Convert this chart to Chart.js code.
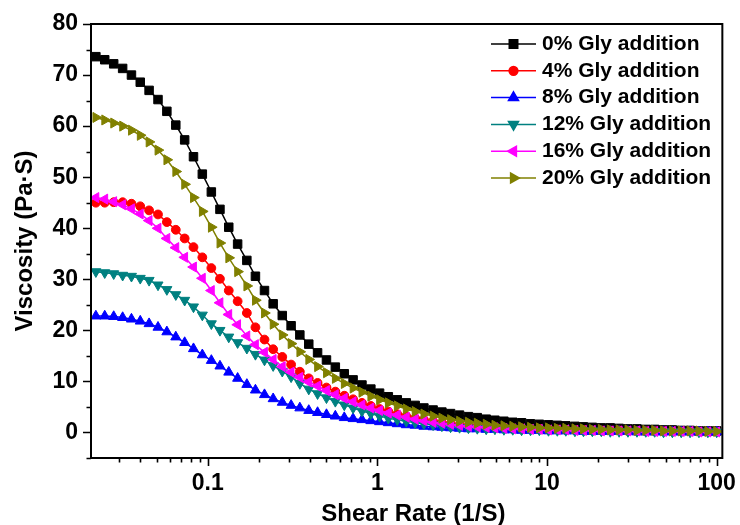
<!DOCTYPE html>
<html lang="en">
<head>
<meta charset="UTF-8">
<title>Viscosity vs. Shear Rate</title>
<script src="https://cdn.jsdelivr.net/npm/chart.js"></script>
<style>
  body { margin: 0; background: #fff; }
  canvas { display: block; }
</style>
</head>
<body>
<canvas id="viscChart" width="740" height="525"></canvas>
<script>
// shear rate (1/S), shared by every series
const shearRate = [
  0.0219, 0.0247, 0.0279, 0.0315, 0.0355, 0.0400, 0.0451, 0.0509, 0.0574, 0.0648,
  0.0731, 0.0824, 0.0929, 0.105, 0.118, 0.133, 0.150, 0.170, 0.191, 0.216,
  0.243, 0.275, 0.310, 0.349, 0.394, 0.444, 0.501, 0.565, 0.638, 0.719,
  0.811, 0.915, 1.03, 1.16, 1.31, 1.48, 1.67, 1.88, 2.13, 2.40,
  2.70, 3.05, 3.44, 3.88, 4.38, 4.93, 5.57, 6.28, 7.08, 7.99,
  9.01, 10.2, 11.5, 12.9, 14.6, 16.4, 18.5, 20.9, 23.6, 26.6,
  30.0, 33.9, 38.2, 43.1, 48.6, 54.8, 61.8, 69.7, 78.6, 88.7,
  100
];

// viscosity (Pa·S)
const gly0 = [
  73.6, 73.0, 72.2, 71.3, 70.0, 68.6, 67.0, 65.2, 62.9, 60.2,
  57.3, 54.0, 50.6, 47.1, 43.7, 40.2, 36.9, 33.7, 30.6, 27.8,
  25.2, 22.9, 20.9, 19.1, 17.3, 15.6, 14.2, 12.8, 11.5, 10.3,
  9.3, 8.5, 7.7, 7.0, 6.4, 5.8, 5.3, 4.8, 4.4, 4.0,
  3.7, 3.4, 3.1, 2.9, 2.6, 2.4, 2.2, 2.0, 1.9, 1.7,
  1.6, 1.5, 1.4, 1.3, 1.2, 1.1, 1.0, 0.9, 0.9, 0.8,
  0.7, 0.7, 0.6, 0.6, 0.5, 0.5, 0.4, 0.4, 0.3, 0.3,
  0.3
];
const gly4 = [
  45.0, 45.0, 45.1, 45.1, 44.8, 44.3, 43.5, 42.7, 41.2, 39.7,
  38.0, 36.3, 34.3, 32.2, 30.1, 27.8, 25.7, 23.4, 20.6, 18.2,
  16.3, 14.8, 13.3, 11.9, 10.6, 9.7, 8.8, 8.0, 7.2, 6.5,
  5.8, 5.2, 4.6, 4.1, 3.6, 3.2, 2.8, 2.5, 2.2, 1.9,
  1.7, 1.5, 1.3, 1.2, 1.1, 1.0, 0.9, 0.8, 0.8, 0.7,
  0.7, 0.6, 0.6, 0.5, 0.5, 0.5, 0.4, 0.4, 0.4, 0.4,
  0.3, 0.3, 0.3, 0.3, 0.3, 0.2, 0.2, 0.2, 0.2, 0.2,
  0.2
];
const gly8 = [
  22.8, 22.8, 22.7, 22.5, 22.2, 21.8, 21.3, 20.6, 19.7, 18.7,
  17.6, 16.4, 15.2, 14.1, 13.0, 11.8, 10.6, 9.4, 8.3, 7.4,
  6.6, 5.9, 5.3, 4.8, 4.3, 3.9, 3.5, 3.2, 2.9, 2.7,
  2.5, 2.3, 2.1, 1.9, 1.7, 1.5, 1.4, 1.2, 1.1, 1.0,
  0.9, 0.8, 0.7, 0.7, 0.6, 0.6, 0.5, 0.5, 0.4, 0.4,
  0.4, 0.3, 0.3, 0.3, 0.3, 0.2, 0.2, 0.2, 0.2, 0.2,
  0.2, 0.1, 0.1, 0.1, 0.1, 0.1, 0.1, 0.1, 0.1, 0.1,
  0.1
];
const gly12 = [
  31.5, 31.3, 31.1, 30.8, 30.6, 30.2, 29.8, 28.9, 28.0, 27.0,
  25.9, 24.6, 23.0, 21.3, 20.0, 18.7, 17.6, 16.5, 15.3, 14.2,
  13.1, 12.0, 10.9, 9.6, 8.5, 7.6, 6.8, 6.1, 5.4, 4.8,
  4.2, 3.7, 3.2, 2.8, 2.5, 2.2, 1.9, 1.7, 1.5, 1.3,
  1.1, 1.0, 0.9, 0.8, 0.7, 0.7, 0.6, 0.6, 0.5, 0.5,
  0.5, 0.4, 0.4, 0.4, 0.3, 0.3, 0.3, 0.3, 0.2, 0.2,
  0.2, 0.2, 0.2, 0.2, 0.1, 0.1, 0.1, 0.1, 0.1, 0.1,
  0.1
];
const gly16 = [
  46.0, 45.7, 45.2, 44.6, 43.8, 42.8, 41.5, 40.0, 38.0, 36.2,
  34.3, 32.4, 30.2, 27.8, 25.4, 23.1, 21.1, 18.9, 17.2, 15.7,
  14.3, 12.9, 11.8, 10.8, 9.9, 9.1, 8.2, 7.4, 6.7, 6.0,
  5.4, 4.8, 4.3, 3.8, 3.4, 3.0, 2.6, 2.3, 2.0, 1.8,
  1.6, 1.4, 1.2, 1.1, 1.0, 0.9, 0.8, 0.7, 0.7, 0.6,
  0.6, 0.5, 0.5, 0.5, 0.4, 0.4, 0.4, 0.3, 0.3, 0.3,
  0.3, 0.3, 0.2, 0.2, 0.2, 0.2, 0.2, 0.2, 0.1, 0.1,
  0.1
];
const gly20 = [
  61.7, 61.2, 60.6, 60.0, 59.2, 58.2, 56.9, 55.3, 53.4, 51.1,
  48.6, 46.0, 43.3, 40.2, 37.1, 34.2, 31.5, 28.7, 25.9, 23.4,
  21.2, 19.1, 17.4, 15.8, 14.3, 12.9, 11.7, 10.6, 9.6, 8.7,
  7.9, 7.1, 6.4, 5.8, 5.2, 4.6, 4.1, 3.6, 3.2, 2.8,
  2.5, 2.2, 2.0, 1.8, 1.6, 1.4, 1.3, 1.2, 1.1, 1.0,
  0.9, 0.9, 0.8, 0.8, 0.7, 0.7, 0.6, 0.6, 0.5, 0.5,
  0.5, 0.4, 0.4, 0.4, 0.3, 0.3, 0.3, 0.3, 0.3, 0.2,
  0.2
];

const seriesLabels = ['0% Gly addition', '4% Gly addition', '8% Gly addition',
                      '12% Gly addition', '16% Gly addition', '20% Gly addition'];
const seriesValues = [gly0, gly4, gly8, gly12, gly16, gly20];

// tick labels
const xTickValues = [0.1, 1, 10, 100];
const yTickValues = [0, 10, 20, 30, 40, 50, 60, 70, 80];

// marker look per series
const colors = ['#000000', '#ff0000', '#0000ff', '#008080', '#ff00ff', '#808000'];
const markers = ['rect', 'circle', 'triangle', 'triangle', 'triangle', 'triangle'];
const rotations = [0, 0, 0, 180, 270, 90];
const radii = [6, 4.4, 5.8, 5.8, 5.8, 5.8];

const FONT = '"Liberation Sans", Arial, sans-serif';

const datasets = seriesValues.map((vals, i) => ({
    label: seriesLabels[i],
    data: vals.map((v, j) => ({ x: shearRate[j], y: v })),
    borderColor: colors[i],
    backgroundColor: colors[i],
    borderWidth: 1.5,
    pointStyle: markers[i],
    pointRotation: rotations[i],
    pointRadius: radii[i],
    pointBorderWidth: 1,
    pointBackgroundColor: colors[i],
    pointBorderColor: colors[i],
    tension: 0,
    order: seriesValues.length - i, // last series drawn on top
    clip: false
}));

// frame, outward tick marks and the line+marker legend
const decorPlugin = {
    id: 'decor',
    afterDraw(chart) {
        const ctx = chart.ctx;
        const a = chart.chartArea;
        const xs = chart.scales.x, ys = chart.scales.y;

        ctx.save();
        ctx.strokeStyle = '#000000';
        ctx.lineWidth = 2;
        ctx.beginPath();
        ctx.rect(a.left, a.top, a.right - a.left, a.bottom - a.top);
        ctx.stroke();

        ctx.lineWidth = 1.6;
        ctx.beginPath();
        for (let d = -2; d <= 2; d++) {
            for (let m = 1; m <= 9; m++) {
                const v = m * Math.pow(10, d);
                if (v < 0.0205 || v > 108) continue;
                const px = Math.round(xs.getPixelForValue(v)) + 0.5;
                const len = m === 1 ? 8 : 4.5;
                ctx.moveTo(px, a.bottom);
                ctx.lineTo(px, a.bottom + len);
            }
        }
        for (let v = -5; v <= 80; v += 5) {
            const py = Math.round(ys.getPixelForValue(v)) + 0.5;
            const len = v % 10 === 0 ? 8 : 4.5;
            ctx.moveTo(a.left, py);
            ctx.lineTo(a.left - len, py);
        }
        ctx.stroke();
        ctx.restore();

        chart.data.datasets.forEach((ds, i) => {
            const y = 44 + i * 26.8;
            ctx.save();
            ctx.strokeStyle = ds.borderColor;
            ctx.lineWidth = 1.5;
            ctx.beginPath();
            ctx.moveTo(491, y);
            ctx.lineTo(536, y);
            ctx.stroke();
            ctx.fillStyle = ds.backgroundColor;
            Chart.helpers.drawPoint(ctx, {
                pointStyle: ds.pointStyle,
                rotation: ds.pointRotation,
                radius: ds.pointRadius,
                borderWidth: 1
            }, 513.5, y);
            ctx.fillStyle = '#000';
            ctx.font = 'bold 21px ' + FONT;
            ctx.textBaseline = 'middle';
            ctx.textAlign = 'left';
            ctx.fillText(ds.label, 542, y);
            ctx.restore();
        });
    }
};

new Chart(document.getElementById('viscChart').getContext('2d'), {
    type: 'line',
    data: { datasets: datasets },
    options: {
        responsive: false,
        animation: false,
        events: [],
        layout: { padding: { top: 24, right: 15, left: 0, bottom: 0 } },
        plugins: {
            legend: { display: false },
            tooltip: { enabled: false }
        },
        scales: {
            x: {
                type: 'logarithmic',
                min: 0.0205,
                max: 108,
                grid: { display: false },
                border: { display: false },
                afterBuildTicks: (scale) => {
                    scale.ticks = xTickValues.map(v => ({ value: v, major: true }));
                },
                afterFit: (scale) => { scale.height = 67; },
                ticks: {
                    autoSkip: false,
                    maxRotation: 0,
                    padding: 4,
                    color: '#000',
                    font: { family: FONT, size: 23, weight: 'bold' },
                    callback: (v) => String(v)
                },
                title: {
                    display: true,
                    text: '\u00a0\u00a0Shear Rate (1/S)',
                    color: '#000',
                    font: { family: FONT, size: 24, weight: 'bold' },
                    padding: { top: 0, bottom: -4 }
                }
            },
            y: {
                type: 'linear',
                min: -5,
                max: 80,
                grid: { display: false },
                border: { display: false },
                afterBuildTicks: (scale) => {
                    scale.ticks = yTickValues.map(v => ({ value: v }));
                },
                afterFit: (scale) => { scale.width = 91; },
                ticks: {
                    padding: 5,
                    color: '#000',
                    font: { family: FONT, size: 23, weight: 'bold' }
                },
                title: {
                    display: true,
                    text: 'Viscosity (Pa·S)',
                    color: '#000',
                    font: { family: FONT, size: 24, weight: 'bold' },
                    padding: { top: 11, bottom: 0 }
                }
            }
        }
    },
    plugins: [decorPlugin]
});
</script>
</body>
</html>
